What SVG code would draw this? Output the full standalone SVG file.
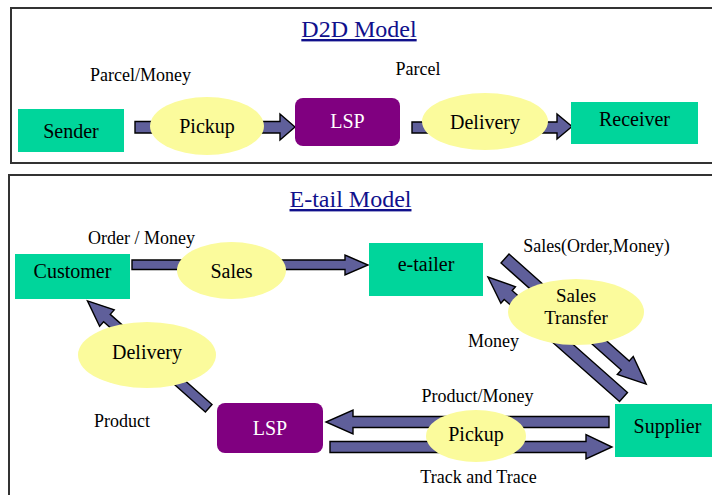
<svg xmlns="http://www.w3.org/2000/svg" width="712" height="495" viewBox="0 0 712 495">
  <defs>
    <style>
      .panel { fill: #ffffff; stroke: #333333; stroke-width: 2; }
      .title { font-family: "Liberation Serif", "Times New Roman", serif; font-size: 24px; fill: #10108c; text-anchor: middle; text-decoration: underline; }
      .party { fill: #00d59b; }
      .lsp { fill: #800080; }
      .step { fill: #fbfb9c; }
      .flow { fill: #5f5f9a; stroke: #000000; stroke-width: 1.4; stroke-linejoin: miter; }
      .node-text { font-family: "Liberation Serif", "Times New Roman", serif; font-size: 20px; fill: #000000; text-anchor: middle; }
      .node-text.light { fill: #ffffff; }
      .node-text.tight { font-size: 19px; }
      .label { font-family: "Liberation Serif", "Times New Roman", serif; font-size: 18px; fill: #000000; text-anchor: middle; }
    </style>
  </defs>

  <rect width="712" height="495" fill="#ffffff"/>

  <!-- Panel frames -->
  <rect class="panel" x="11" y="8" width="720" height="155"/>
  <rect class="panel" x="9" y="175" width="720" height="340"/>

  <text class="title" x="359" y="37">D2D Model</text>
  <text class="title" x="350.5" y="207">E-tail Model</text>

  <!-- Flow arrows -->
  <g id="connectors">
    <!-- D2D: Sender -> Pickup -> LSP -->
    <polygon class="flow" points="135,121.5 280,121.5 280,114 295,127 280,140 280,133 135,133"/>
    <!-- D2D: LSP -> Delivery -> Receiver -->
    <polygon class="flow" points="412,122 557,122 557,114 572,126.5 557,139 557,133 412,133"/>
    <!-- E-tail: Customer -> Sales -> e-tailer -->
    <polygon class="flow" points="132,260 345,260 345,255 368,265 345,275 345,269.5 132,269.5"/>
    <!-- E-tail: e-tailer -> Sales Transfer -> Supplier -->
    <polygon class="flow" transform="translate(505,258.5) rotate(41.67)" points="0,-6 161,-6 161,-12 189,0 161,12 161,6 0,6"/>
    <!-- E-tail: Supplier -> e-tailer (Money) -->
    <polygon class="flow" transform="translate(623.5,397) rotate(221.5)" points="0,-6 154,-6 154,-11 181,0 154,11 154,6 0,6"/>
    <!-- E-tail: Supplier -> LSP (Product/Money) -->
    <polygon class="flow" points="609,416.5 353,416.5 353,410 326,422 353,434 353,427.5 609,427.5"/>
    <!-- E-tail: LSP -> Supplier (Track and Trace) -->
    <polygon class="flow" points="330,441.5 586,441.5 586,434.5 612,447 586,459 586,452.5 330,452.5"/>
    <!-- E-tail: LSP -> Delivery -> Customer -->
    <polygon class="flow" transform="translate(208.7,408.3) rotate(221.55)" points="0,-5 136,-5 136,-11 162,0 136,11 136,5 0,5"/>
  </g>

  <!-- D2D nodes -->
  <g id="d2d-sender">
    <rect class="party" x="18" y="109" width="106" height="43"/>
    <text class="node-text" x="71" y="138">Sender</text>
  </g>
  <g id="d2d-pickup">
    <ellipse class="step" cx="207" cy="126" rx="57" ry="29"/>
    <text class="node-text" x="207" y="133">Pickup</text>
  </g>
  <g id="d2d-lsp">
    <rect class="lsp" x="295" y="98" width="105" height="48" rx="8" ry="8"/>
    <text class="node-text light" x="347.5" y="128">LSP</text>
  </g>
  <g id="d2d-delivery">
    <ellipse class="step" cx="485" cy="121.5" rx="63" ry="28.5"/>
    <text class="node-text" x="485" y="129">Delivery</text>
  </g>
  <g id="d2d-receiver">
    <rect class="party" x="571" y="102" width="127" height="42"/>
    <text class="node-text" x="634.5" y="126">Receiver</text>
  </g>
  <text class="label" x="140.5" y="81">Parcel/Money</text>
  <text class="label" x="418" y="75">Parcel</text>

  <!-- E-tail nodes -->
  <g id="etail-customer">
    <rect class="party" x="15" y="254" width="115" height="45"/>
    <text class="node-text" x="72.5" y="278">Customer</text>
  </g>
  <g id="etail-sales">
    <ellipse class="step" cx="231.5" cy="270.5" rx="54.5" ry="28.5"/>
    <text class="node-text" x="231.5" y="278">Sales</text>
  </g>
  <g id="etail-etailer">
    <rect class="party" x="369" y="243" width="114" height="53"/>
    <text class="node-text" x="426" y="271">e-tailer</text>
  </g>
  <g id="etail-sales-transfer">
    <ellipse class="step" cx="576" cy="312" rx="68" ry="33"/>
    <text class="node-text tight" x="576" y="302">Sales</text>
    <text class="node-text tight" x="576" y="323.5">Transfer</text>
  </g>
  <g id="etail-delivery">
    <ellipse class="step" cx="147" cy="355" rx="69" ry="33"/>
    <text class="node-text" x="147" y="359">Delivery</text>
  </g>
  <g id="etail-lsp">
    <rect class="lsp" x="217" y="403" width="106" height="50" rx="8" ry="8"/>
    <text class="node-text light" x="270" y="435">LSP</text>
  </g>
  <g id="etail-pickup">
    <ellipse class="step" cx="476" cy="436" rx="50" ry="26"/>
    <text class="node-text" x="476" y="441">Pickup</text>
  </g>
  <g id="etail-supplier">
    <rect class="party" x="615" y="404" width="105" height="53"/>
    <text class="node-text" x="667.5" y="433">Supplier</text>
  </g>

  <text class="label" x="141.5" y="244">Order / Money</text>
  <text class="label" x="596.5" y="252">Sales(Order,Money)</text>
  <text class="label" x="493.5" y="347">Money</text>
  <text class="label" x="122" y="427">Product</text>
  <text class="label" x="477.5" y="402">Product/Money</text>
  <text class="label" x="478.5" y="483">Track and Trace</text>
</svg>
